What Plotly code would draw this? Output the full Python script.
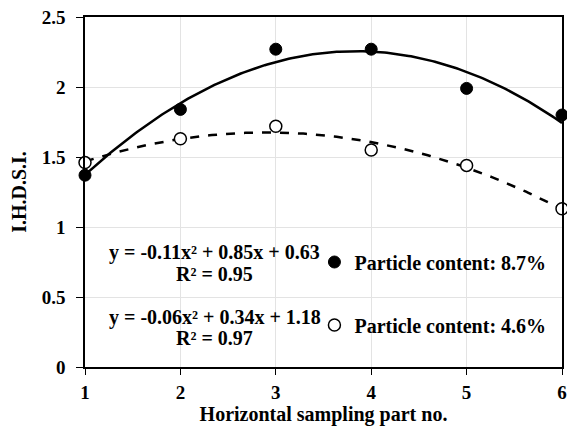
import numpy as np
import plotly.graph_objects as go

parts = [1, 2, 3, 4, 5, 6]
ihdsi_87 = [1.37, 1.84, 2.27, 2.27, 1.99, 1.80]
ihdsi_46 = [1.46, 1.63, 1.72, 1.55, 1.44, 1.13]
x_ticks = [1, 2, 3, 4, 5, 6]
y_ticks = [0, 0.5, 1, 1.5, 2, 2.5]
y_tick_text = ["0", "0.5", "1", "1.5", "2", "2.5"]
eq_87 = ["y = -0.11x² + 0.85x + 0.63", "R² = 0.95"]
eq_46 = ["y = -0.06x² + 0.34x + 1.18", "R² = 0.97"]
name_87 = "Particle content: 8.7%"
name_46 = "Particle content: 4.6%"

FONT = "Liberation Serif, Times New Roman, serif"
xs = np.linspace(1, 6, 200)
fit87 = np.polyval(np.polyfit(parts, ihdsi_87, 2), xs)
fit46 = np.polyval(np.polyfit(parts, ihdsi_46, 2), xs)

def b(t):
    return "<b>" + t + "</b>"

fig = go.Figure()
fig.add_trace(go.Scatter(x=xs, y=fit87, mode="lines", line=dict(color="black", width=2.5),
                         showlegend=False, hoverinfo="skip"))
fig.add_trace(go.Scatter(x=xs, y=fit46, mode="lines", line=dict(color="black", width=2.5, dash="dash"),
                         showlegend=False, hoverinfo="skip"))
fig.add_trace(go.Scatter(x=parts, y=ihdsi_87, mode="markers", name=b(name_87),
                         marker=dict(symbol="circle", size=12, color="black",
                                     line=dict(color="black", width=1)),
                         cliponaxis=False, legend="legend"))
fig.add_trace(go.Scatter(x=parts, y=ihdsi_46, mode="markers", name=b(name_46),
                         marker=dict(symbol="circle", size=12, color="white",
                                     line=dict(color="black", width=1.5)),
                         cliponaxis=False, legend="legend2"))

legend_style = dict(font=dict(family=FONT, size=20, color="black"),
                    bgcolor="rgba(0,0,0,0)", borderwidth=0, xanchor="left", yanchor="middle",
                    itemwidth=30)
fig.update_layout(
    width=567, height=426,
    margin=dict(l=85, r=5, t=17, b=59),
    paper_bgcolor="white", plot_bgcolor="white",
    font=dict(family=FONT, size=19, color="black"),
    legend=dict(x=0.481, y=0.3, **legend_style),
    legend2=dict(x=0.481, y=0.12, **legend_style),
    xaxis=dict(range=[1, 6], tickvals=x_ticks, ticktext=[b(str(v)) for v in x_ticks],
               showgrid=True, gridcolor="#e3e3e3", gridwidth=1, automargin=False,
               showline=True, linecolor="black", linewidth=1.5, mirror=True,
               ticks="outside", ticklen=6, tickcolor="black", zeroline=False,
               ticklabelstandoff=1,
               tickfont=dict(family=FONT, size=19),
               title=dict(text=b("Horizontal sampling part no."), standoff=2,
                          font=dict(family=FONT, size=20))),
    yaxis=dict(range=[0, 2.5], tickvals=y_ticks, ticktext=[b(t) for t in y_tick_text], showgrid=True,
               gridcolor="#e3e3e3", gridwidth=1, automargin=False,
               showline=True, linecolor="black", linewidth=1.5, mirror=True,
               ticks="outside", ticklen=7, tickcolor="black", zeroline=False,
               ticklabelstandoff=7,
               tickfont=dict(family=FONT, size=19),
               title=dict(text=b("I.H.D.S.I."), standoff=10,
                          font=dict(family=FONT, size=20))),
)

for lines, yvals in ((eq_87, (0.821, 0.664)), (eq_46, (0.357, 0.207))):
    for line, yv in zip(lines, yvals):
        fig.add_annotation(x=2.36, y=yv, xref="x", yref="y", text=b(line),
                           showarrow=False, align="center",
                           font=dict(family=FONT, size=20, color="black"))

fig.write_html("out.html")
